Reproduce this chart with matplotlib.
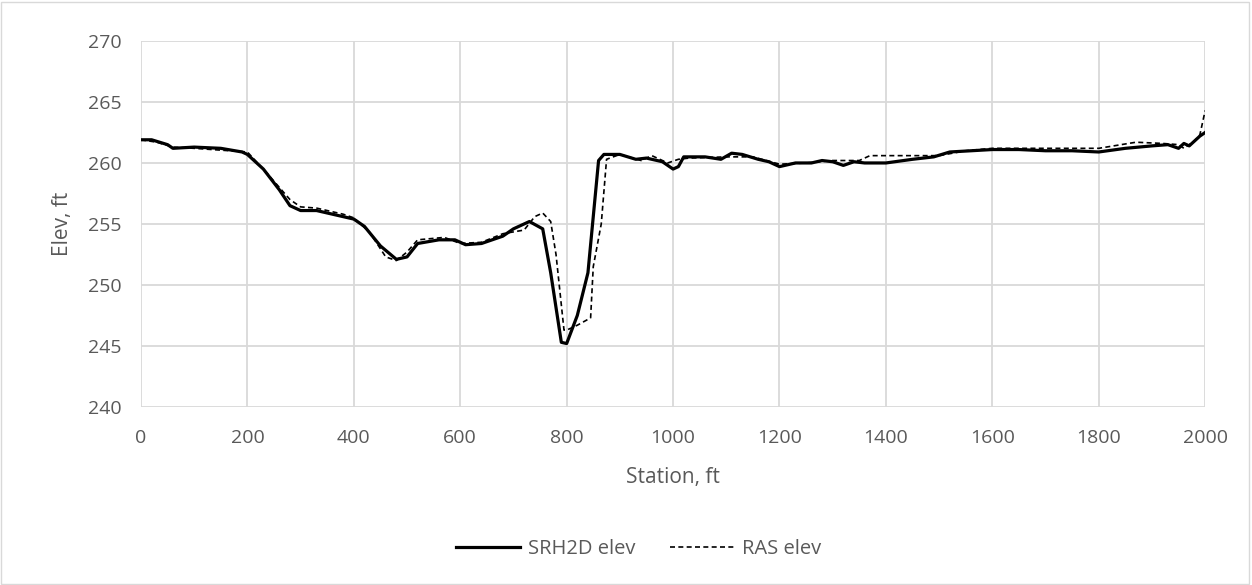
import numpy as np
import matplotlib
matplotlib.use('Agg')
import matplotlib.pyplot as plt

# SRH2D profile (station ft, elev ft)
srh_sta = [0, 20, 50, 60, 100, 150, 190, 200, 230, 260, 280, 300, 330, 360, 400, 420,
           450, 480, 500, 520, 560, 590, 610, 640, 680, 700, 720, 730, 755, 770, 790,
           800, 820, 840, 860, 870, 900, 930, 950, 980, 1000, 1010, 1020, 1060, 1090,
           1110, 1130, 1160, 1180, 1200, 1230, 1260, 1280, 1300, 1320, 1340, 1360,
           1400, 1450, 1490, 1520, 1560, 1600, 1650, 1700, 1750, 1800, 1850, 1900,
           1930, 1950, 1960, 1970, 1990, 2000]
srh_elev = [261.9, 261.9, 261.5, 261.2, 261.3, 261.2, 260.9, 260.7, 259.5, 257.8, 256.5,
            256.1, 256.1, 255.8, 255.4, 254.8, 253.2, 252.1, 252.3, 253.4, 253.7, 253.7,
            253.3, 253.4, 254.0, 254.6, 255.0, 255.2, 254.6, 251.0, 245.3, 245.2, 247.5,
            251.0, 260.2, 260.7, 260.7, 260.3, 260.4, 260.1, 259.5, 259.7, 260.5, 260.5,
            260.3, 260.8, 260.7, 260.3, 260.1, 259.7, 260.0, 260.0, 260.2, 260.1, 259.8,
            260.1, 260.0, 260.0, 260.3, 260.5, 260.9, 261.0, 261.1, 261.1, 261.0, 261.0,
            260.9, 261.2, 261.4, 261.5, 261.2, 261.6, 261.4, 262.2, 262.5]

# RAS profile
ras_sta = [0, 30, 60, 100, 200, 240, 280, 300, 330, 380, 400, 430, 460, 480, 500, 520,
           570, 600, 640, 680, 720, 740, 755, 770, 780, 795, 800, 820, 845, 850, 865,
           875, 900, 940, 960, 990, 1010, 1030, 1100, 1150, 1200, 1250, 1300, 1350,
           1370, 1420, 1500, 1550, 1600, 1700, 1800, 1870, 1920, 1950, 1960, 1980,
           1990, 2000]
ras_elev = [261.9, 261.7, 261.3, 261.2, 260.9, 259.0, 257.0, 256.4, 256.3, 255.8, 255.5,
            254.3, 252.3, 252.0, 252.7, 253.7, 253.9, 253.4, 253.5, 254.2, 254.5, 255.6,
            255.9, 255.2, 252.5, 246.3, 246.3, 246.7, 247.3, 251.5, 255.0, 260.3, 260.7,
            260.2, 260.6, 260.0, 260.3, 260.4, 260.5, 260.5, 259.9, 260.0, 260.2, 260.2,
            260.6, 260.6, 260.6, 261.0, 261.2, 261.2, 261.2, 261.7, 261.6, 261.5, 261.2,
            261.8, 262.3, 264.3]

plt.rcParams['font.family'] = ['Open Sans', 'DejaVu Sans']
txt = '#595959'

fig = plt.figure(figsize=(12.52, 5.85), dpi=100)
ax = fig.add_axes([0.1126, 0.3043, 0.85, 0.6257])

ax.plot(srh_sta, srh_elev, color='black', lw=2.3, label='SRH2D elev', zorder=3)
ax.plot(ras_sta, ras_elev, color='black', lw=1.2, ls=(0, (3, 2)), label='RAS elev', zorder=4)

ax.set_xlim(0, 2000)
ax.set_ylim(240, 270)
ax.set_xticks(np.arange(0, 2001, 200))
ax.set_yticks(np.arange(240, 271, 5))
ax.grid(True, color='#d9d9d9', lw=1.3)
ax.set_axisbelow(True)
for s in ax.spines.values():
    s.set_visible(False)
ax.tick_params(length=0, labelsize=14, colors=txt)
ax.tick_params(axis='x', pad=16)
ax.tick_params(axis='y', pad=14)

ax.set_xlabel('Station, ft', fontsize=15, color=txt, labelpad=14)
ax.set_ylabel('Elev, ft', fontsize=15, color=txt, labelpad=11)

fig.legend(loc='center', bbox_to_anchor=(0.51, 0.062), ncol=2, frameon=False,
           fontsize=14.5, labelcolor=txt, handlelength=3.2, handletextpad=0.4,
           columnspacing=1.7)

fig.patches.append(plt.Rectangle((0.001, 0.002), 0.997, 0.995, transform=fig.transFigure,
                                 fill=False, edgecolor='#d9d9d9', lw=1))

plt.savefig('out.png', dpi=100)
